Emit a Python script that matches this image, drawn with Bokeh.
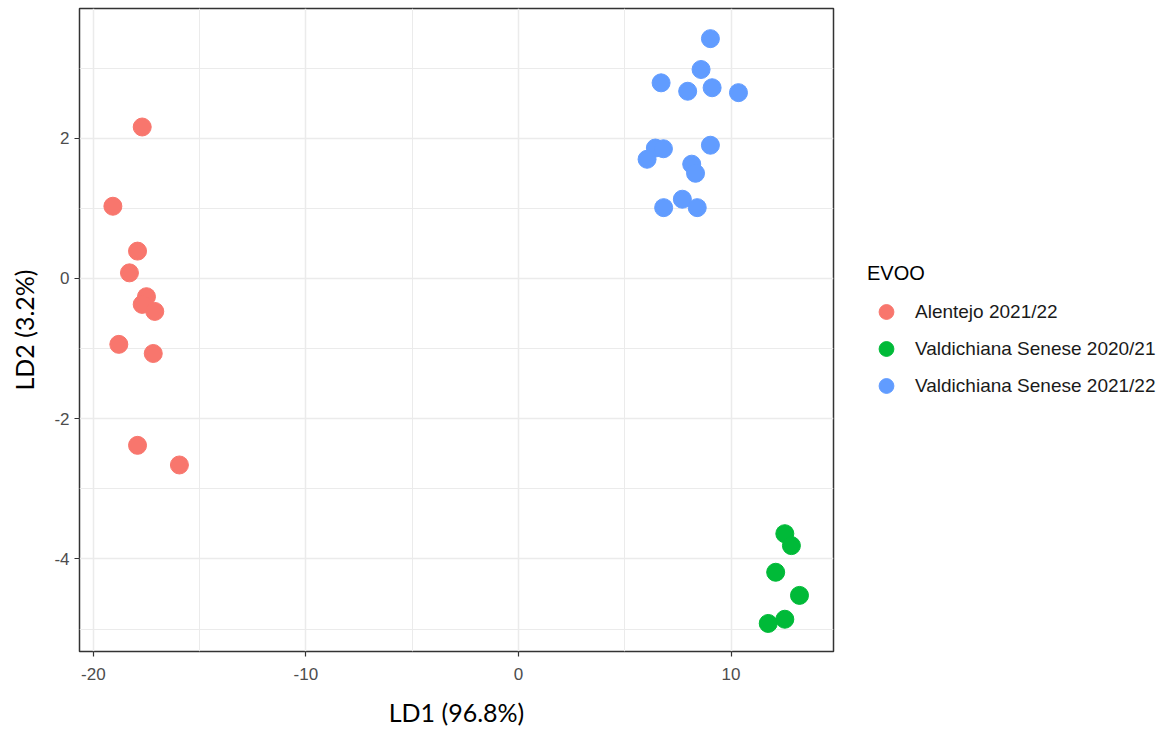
from bokeh.plotting import figure
from bokeh.layouts import row
from bokeh.models import Range1d, FixedTicker, Legend, LegendItem
from bokeh.embed import file_html
from bokeh.resources import INLINE

# ---- data ----
groups = ["Alentejo 2021/22", "Valdichiana Senese 2020/21", "Valdichiana Senese 2021/22"]
colors = ["#F8766D", "#00BA38", "#619CFF"]

alentejo_ld1 = [-17.70, -19.08, -17.92, -18.30, -17.50, -17.70, -17.11, -18.80, -17.18, -17.92, -15.95]
alentejo_ld2 = [2.16, 1.03, 0.39, 0.08, -0.26, -0.37, -0.47, -0.94, -1.07, -2.38, -2.66]

vs2021_ld1 = [12.53, 12.84, 12.10, 13.22, 12.53, 11.75]
vs2021_ld2 = [-3.64, -3.81, -4.19, -4.52, -4.86, -4.92]

vs2122_ld1 = [9.03, 8.59, 6.71, 7.96, 9.11, 10.35, 9.03, 6.44, 6.82, 6.05, 8.15, 8.33, 6.83, 7.71, 8.41]
vs2122_ld2 = [3.42, 2.98, 2.79, 2.67, 2.72, 2.65, 1.90, 1.86, 1.85, 1.70, 1.63, 1.50, 1.01, 1.13, 1.01]

x_ticks = [-20, -10, 0, 10]
x_minor = [-15, -5, 5]
y_ticks = [-4, -2, 0, 2]
y_minor = [-5, -3, -1, 1, 3]

series = [(alentejo_ld1, alentejo_ld2), (vs2021_ld1, vs2021_ld2), (vs2122_ld1, vs2122_ld2)]

p = figure(width=836, height=729, output_backend="svg", toolbar_location=None,
           x_range=Range1d(-20.65, 14.82), y_range=Range1d(-5.32, 3.85),
           min_border_left=79, min_border_right=3, min_border_top=8, min_border_bottom=76)
p.background_fill_color = "white"
p.border_fill_color = "white"
p.outline_line_color = "#333333"
p.outline_line_width = 1.5

for (xs, ys), g, c in zip(series, groups, colors):
    p.scatter(xs, ys, size=18, marker="circle", fill_color=c, line_color=c)

for ax, ticks, minor in ((p.xaxis[0], x_ticks, x_minor), (p.yaxis[0], y_ticks, y_minor)):
    ax.ticker = FixedTicker(ticks=ticks, minor_ticks=minor)
    ax.major_label_overrides = {t: str(t) for t in ticks}
    ax.axis_line_color = None
    ax.major_tick_line_color = "#333333"
    ax.major_tick_line_width = 1.2
    ax.major_tick_in = 0
    ax.major_tick_out = 5
    ax.minor_tick_line_color = None
    ax.major_label_text_font = "Liberation Sans"
    ax.major_label_text_font_size = "17px"
    ax.major_label_text_color = "#4D4D4D"
    ax.axis_label_text_font = "Lato"
    ax.axis_label_text_font_size = "25px"
    ax.axis_label_text_font_style = "normal"
    ax.axis_label_text_color = "#000000"

p.xaxis.axis_label = "LD1 (96.8%)"
p.yaxis.axis_label = "LD2 (3.2%)"
p.xaxis.major_label_standoff = 11
p.yaxis.major_label_standoff = 5
p.xaxis.axis_label_standoff = 14
p.yaxis.axis_label_standoff = 12

for grid in (p.xgrid[0], p.ygrid[0]):
    grid.grid_line_color = "#EBEBEB"
    grid.grid_line_width = 1.5
    grid.minor_grid_line_color = "#EBEBEB"
    grid.minor_grid_line_width = 1.0

# ---- legend panel (separate figure to the right) ----
lg = figure(width=333, height=729, output_backend="svg", toolbar_location=None,
            x_axis_type=None, y_axis_type=None,
            min_border_left=0, min_border_right=0, min_border_top=0, min_border_bottom=0)
lg.outline_line_color = None
lg.background_fill_color = "white"
lg.border_fill_color = "white"
lg.grid.visible = False

nan = float("nan")
items = []
for g, c in zip(groups, colors):
    r = lg.scatter([nan], [nan], size=18, marker="circle", fill_color=c, line_color=c)
    items.append(LegendItem(label=g, renderers=[r]))

legend = Legend(items=items, title="EVOO", location=(31, 247))
legend.title_text_font = "Liberation Sans"
legend.title_text_font_size = "20px"
legend.title_text_font_style = "normal"
legend.title_text_color = "#000000"
legend.title_standoff = 8
legend.label_text_font = "Liberation Sans"
legend.label_text_font_size = "19px"
legend.label_text_color = "#1A1A1A"
legend.glyph_width = 38
legend.glyph_height = 37
legend.spacing = 0
legend.label_standoff = 10
legend.padding = 4
legend.margin = 0
legend.border_line_color = None
legend.background_fill_alpha = 0
lg.add_layout(legend)

layout = row(p, lg)
open("out.html", "w").write(file_html(layout, INLINE))
